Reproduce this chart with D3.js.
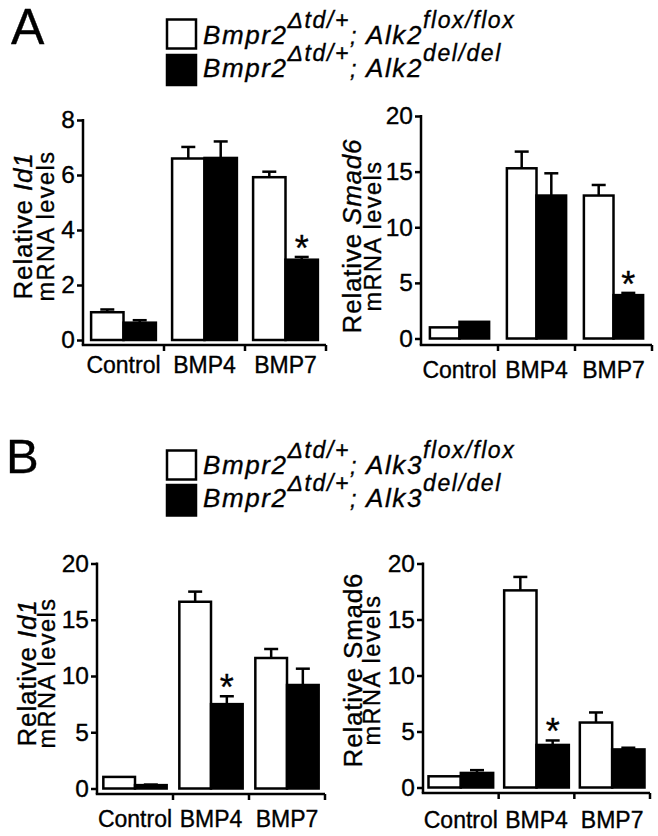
<!DOCTYPE html>
<html><head><meta charset="utf-8">
<script src="https://cdn.jsdelivr.net/npm/d3@7"></script>
<style>body{margin:0;background:#fff} svg{display:block} text{stroke:#000;stroke-width:0.35px;paint-order:stroke}</style>
</head><body><svg id="c" width="658" height="836"></svg>
<script>
// ---------- DATA ----------
const categories = ["Control", "BMP4", "BMP7"];
const series = ["flox", "del"];
// Panel A (Alk2)
const aId1Flox = [1.01, 6.6, 5.92];
const aId1FloxErr = [0.1, 0.42, 0.2];
const aId1Del = [0.63, 6.62, 2.92];
const aId1DelErr = [0.09, 0.6, 0.1];
const aSmad6Flox = [1.0, 15.3, 12.85];
const aSmad6FloxErr = [0, 1.5, 0.95];
const aSmad6Del = [1.5, 12.85, 3.9];
const aSmad6DelErr = [0, 2.0, 0.2];
// Panel B (Alk3)
const bId1Flox = [1.03, 16.6, 11.6];
const bId1FloxErr = [0, 0.9, 0.8];
const bId1Del = [0.3, 7.5, 9.2];
const bId1DelErr = [0.05, 0.7, 1.45];
const bSmad6Flox = [1.0, 17.6, 5.8];
const bSmad6FloxErr = [0, 1.2, 0.9];
const bSmad6Del = [1.3, 3.8, 3.4];
const bSmad6DelErr = [0.25, 0.4, 0.15];
// significance markers (on the "del" bar)
const sigA = ["BMP7"];
const sigB = ["BMP4"];
// tick values
const yTicksId1A = [0, 2, 4, 6, 8];
const yTicks20 = [0, 5, 10, 15, 20];
// legend text pieces: [text, role]
const legendAFlox = [["Bmpr2", "main"], ["\u0394td/+", "sup"], ["; ", "semi"], ["Alk2", "main"], ["flox/flox", "sup"]];
const legendADel = [["Bmpr2", "main"], ["\u0394td/+", "sup"], ["; ", "semi"], ["Alk2", "main"], ["del/del", "sup"]];
const legendBFlox = [["Bmpr2", "main"], ["\u0394td/+", "sup"], ["; ", "semi"], ["Alk3", "main"], ["flox/flox", "sup"]];
const legendBDel = [["Bmpr2", "main"], ["\u0394td/+", "sup"], ["; ", "semi"], ["Alk3", "main"], ["del/del", "sup"]];

// ---------- DRAWING ----------
const FONT = "'Liberation Sans', Arial, Helvetica, sans-serif";
const svg = d3.select("#c").style("font-family", FONT);
const SW = 2.5;

function panel(cfg) {
  const g = svg.append("g");
  const y = d3.scaleLinear().domain([0, cfg.yMax]).range([cfg.yZero, cfg.yTop]);
  const x = d3.scaleBand().domain(categories).range([cfg.x0, cfg.x1]).padding(0);
  const xs = d3.scaleBand().domain(series).range([0, x.bandwidth()]).paddingInner(0).paddingOuter(cfg.outer);
  const vals = {flox: cfg.flox, del: cfg.del};
  const errs = {flox: cfg.floxErr, del: cfg.delErr};
  const rows = [];
  categories.forEach((c, i) => series.forEach(s => rows.push({c, s, v: vals[s][i], e: errs[s][i]})));

  // error bars (drawn first, bars on top)
  const eb = g.append("g").attr("stroke", "#000").attr("stroke-width", SW).attr("fill", "none");
  rows.filter(d => d.e > 0).forEach(d => {
    const cx = x(d.c) + xs(d.s) + xs.bandwidth() / 2;
    eb.append("line").attr("x1", cx).attr("x2", cx).attr("y1", y(d.v)).attr("y2", y(d.v + d.e));
    eb.append("line").attr("x1", cx - 7).attr("x2", cx + 7).attr("y1", y(d.v + d.e)).attr("y2", y(d.v + d.e));
  });
  // bars
  g.append("g").selectAll("rect").data(rows).join("rect")
    .attr("x", d => x(d.c) + xs(d.s))
    .attr("width", xs.bandwidth())
    .attr("y", d => y(d.v))
    .attr("height", d => y(0) - y(d.v))
    .attr("fill", d => d.s === "flox" ? "#fff" : "#000")
    .attr("stroke", "#000").attr("stroke-width", SW);
  // significance
  g.append("g").selectAll("text").data(rows.filter(d => d.s === "del" && cfg.sig.includes(d.c))).join("text")
    .attr("x", d => x(d.c) + xs(d.s) + xs.bandwidth() / 2)
    .attr("y", d => y(d.v + d.e) - 16 + 20)
    .attr("text-anchor", "middle").attr("font-size", 36).text("*");

  // y axis
  const ya = g.append("g").attr("transform", `translate(${cfg.x0},0)`)
    .call(d3.axisLeft(y).tickValues(cfg.ticks).tickSize(6).tickPadding(2).tickFormat(d3.format("d")));
  ya.select(".domain").remove();
  ya.selectAll(".tick line").attr("stroke-width", SW);
  ya.selectAll(".tick text").attr("font-size", 24.5).attr("font-family", FONT).attr("fill", "#000");
  g.append("line").attr("x1", cfg.x0).attr("x2", cfg.x0).attr("y1", cfg.yTop - 1).attr("y2", cfg.axisY)
    .attr("stroke", "#000").attr("stroke-width", SW);
  // x axis
  g.append("line").attr("x1", cfg.x0 - SW / 2).attr("x2", cfg.x1).attr("y1", cfg.axisY).attr("y2", cfg.axisY)
    .attr("stroke", "#000").attr("stroke-width", SW);
  g.append("g").selectAll("line").data(categories).join("line")
    .attr("x1", c => x(c) + x.bandwidth()).attr("x2", c => x(c) + x.bandwidth())
    .attr("y1", cfg.axisY).attr("y2", cfg.axisY + 6)
    .attr("stroke", "#000").attr("stroke-width", SW);
  g.append("g").selectAll("text").data(categories).join("text")
    .attr("x", c => x(c) + x.bandwidth() / 2).attr("y", cfg.xlabY)
    .attr("text-anchor", "middle").attr("font-size", 23).text(c => c);

  // y label
  const l1 = g.append("text").attr("transform", `translate(${cfg.l1x},${cfg.lcy}) rotate(-90)`)
    .attr("text-anchor", "middle").attr("font-size", 26).attr("letter-spacing", 0.8);
  l1.append("tspan").text("Relative ");
  l1.append("tspan").attr("font-style", cfg.geneItalic ? "italic" : "normal").text(cfg.gene);
  g.append("text").attr("transform", `translate(${cfg.l2x},${cfg.lcy}) rotate(-90)`)
    .attr("text-anchor", "middle").attr("font-size", 23.5).attr("letter-spacing", 1.5).text("mRNA levels");
}

function legendLine(pieces, x, yb) {
  const t = svg.append("text").attr("x", x).attr("y", yb).attr("font-style", "italic").attr("letter-spacing", 1.6);
  let shift = 0;
  pieces.forEach(([txt, role]) => {
    const target = role === "sup" ? -16 : 0;
    t.append("tspan").attr("dy", target - shift).text(txt)
      .attr("font-size", role === "main" ? 26 : 23);
    shift = target;
  });
}
function legend(yWhite, hWhite, yBlack, hBlack, l1, l2, b1, b2) {
  svg.append("rect").attr("x", 167).attr("y", yWhite).attr("width", 29).attr("height", hWhite)
    .attr("fill", "#fff").attr("stroke", "#000").attr("stroke-width", SW);
  svg.append("rect").attr("x", 167).attr("y", yBlack).attr("width", 29).attr("height", hBlack)
    .attr("fill", "#000").attr("stroke", "#000").attr("stroke-width", SW);
  legendLine(l1, 203, b1);
  legendLine(l2, 203, b2);
}

// panel letters
svg.append("text").attr("x", 11).attr("y", 44).attr("font-size", 50).text("A");
svg.append("text").attr("x", 6).attr("y", 473).attr("font-size", 49).text("B");

legend(19.5, 29, 55, 30, legendAFlox, legendADel, 43.5, 77);
legend(450.5, 29, 485, 30.5, legendBFlox, legendBDel, 473.5, 507);

panel({x0: 83, x1: 326, yTop: 120, yZero: 340, axisY: 345, yMax: 8, ticks: yTicksId1A, outer: 0.25,
  flox: aId1Flox, floxErr: aId1FloxErr, del: aId1Del, delErr: aId1DelErr, sig: sigA,
  gene: "Id1", geneItalic: true, l1x: 32, l2x: 54, lcy: 226, xlabY: 373});
panel({x0: 421, x1: 652, yTop: 116, yZero: 338.5, axisY: 345, yMax: 20, ticks: yTicks20, outer: 0.3,
  flox: aSmad6Flox, floxErr: aSmad6FloxErr, del: aSmad6Del, delErr: aSmad6DelErr, sig: sigA,
  gene: "Smad6", geneItalic: true, l1x: 361, l2x: 381, lcy: 236, xlabY: 378});
panel({x0: 97, x1: 325, yTop: 563.5, yZero: 788.5, axisY: 794, yMax: 20, ticks: yTicks20, outer: 0.2,
  flox: bId1Flox, floxErr: bId1FloxErr, del: bId1Del, delErr: bId1DelErr, sig: sigB,
  gene: "Id1", geneItalic: true, l1x: 36, l2x: 55, lcy: 673, xlabY: 827});
panel({x0: 423, x1: 650, yTop: 563.5, yZero: 787.5, axisY: 793, yMax: 20, ticks: yTicks20, outer: 0.17,
  flox: bSmad6Flox, floxErr: bSmad6FloxErr, del: bSmad6Del, delErr: bSmad6DelErr, sig: sigB,
  gene: "Smad6", geneItalic: false, l1x: 362, l2x: 380, lcy: 670, xlabY: 828});
</script></body></html>
